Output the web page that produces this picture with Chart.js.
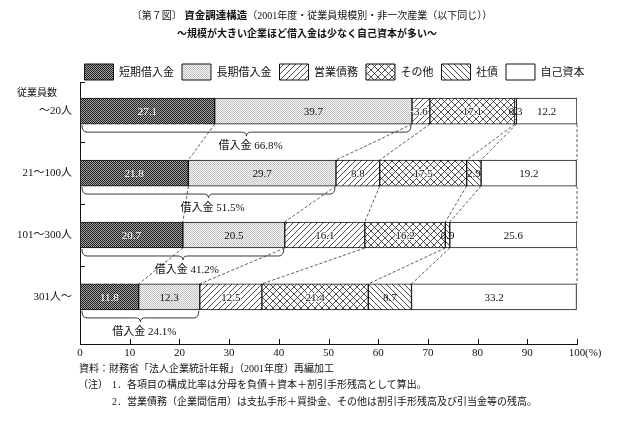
<!DOCTYPE html>
<html><head><meta charset="utf-8">
<script src="https://cdn.jsdelivr.net/npm/chart.js@4/dist/chart.umd.min.js"></script>
<style>
body{margin:0;background:#fff;}
#wrap{position:relative;width:620px;height:424px;overflow:hidden;font-family:"Liberation Serif","Noto Sans CJK JP",serif;color:#111;}
.t{position:absolute;white-space:nowrap;font-size:10px;line-height:12px;}
canvas{position:absolute;left:0;top:0;}
</style></head><body>
<div id="wrap">
<canvas id="c" width="620" height="424"></canvas>
<div class="t" style="left:0;width:624px;text-align:center;top:10px">〔第７図〕 <b style="font-size:10.5px">資金調達構造</b>（2001年度・従業員規模別・非一次産業（以下同じ））</div>
<div class="t" style="left:0;width:614px;text-align:center;top:28px;font-weight:bold">～規模が大きい企業ほど借入金は少なく自己資本が多い～</div>
<div class="t" style="left:17px;top:87px">従業員数</div>
<div class="t" style="left:79px;top:363px">資料：財務省「法人企業統計年報」（2001年度）再編加工</div>
<div class="t" style="left:78px;top:379px">（注）</div>
<div class="t" style="left:112px;top:379px">1．各項目の構成比率は分母を負債＋資本＋割引手形残高として算出。</div>
<div class="t" style="left:112px;top:396px">2．営業債務（企業間信用）は支払手形＋買掛金、その他は割引手形残高及び引当金等の残高。</div>
</div>
<script>
const categories = ['～20人', '21～100人', '101～300人', '301人～'];
const seriesNames = ['短期借入金', '長期借入金', '営業債務', 'その他', '社債', '自己資本'];
const shortTermLoans = [27.1, 21.8, 20.7, 11.8];
const longTermLoans  = [39.7, 29.7, 20.5, 12.3];
const tradePayables  = [3.6, 8.8, 16.1, 12.5];
const others         = [17.1, 17.5, 16.2, 21.4];
const bonds          = [0.3, 2.9, 0.9, 8.7];
const equity         = [12.2, 19.2, 25.6, 33.2];
const borrowingLabel = '借入金';
const seriesValues = [shortTermLoans, longTermLoans, tradePayables, others, bonds, equity];

function makePattern(kind){
  const c = document.createElement('canvas');
  const g = c.getContext('2d');
  if (kind === 'dark' || kind === 'light') {
    c.width = c.height = 2;
    g.fillStyle = kind === 'dark' ? '#a0a0a0' : '#f6f6f6';
    g.fillRect(0,0,2,2);
    g.fillStyle = kind === 'dark' ? '#222' : '#c2c2c2';
    g.fillRect(0,0,1,1); g.fillRect(1,1,1,1);
  } else if (kind === 'white') {
    c.width = c.height = 2; g.fillStyle = '#fff'; g.fillRect(0,0,2,2);
  } else {
    const s = kind === 'cross' ? 7 : 6;
    c.width = c.height = s;
    g.fillStyle = '#fff'; g.fillRect(0,0,s,s);
    g.strokeStyle = '#222'; g.lineWidth = 0.8;
    const fwd = () => { g.beginPath(); g.moveTo(-1,s+1); g.lineTo(s+1,-1); g.moveTo(-1,1); g.lineTo(1,-1); g.moveTo(s-1,s+1); g.lineTo(s+1,s-1); g.stroke(); };
    const bwd = () => { g.beginPath(); g.moveTo(-1,-1); g.lineTo(s+1,s+1); g.moveTo(s-1,-1); g.lineTo(s+1,1); g.moveTo(-1,s-1); g.lineTo(1,s+1); g.stroke(); };
    if (kind === 'fwd' || kind === 'cross') fwd();
    if (kind === 'bwd' || kind === 'cross') bwd();
  }
  return g.createPattern(c, 'repeat');
}
const patterns = ['dark','light','fwd','cross','bwd','white'].map(makePattern);

const datasets = seriesNames.map((name, i) => ({
  label: name,
  data: seriesValues[i].map((v, j) => ({x: v, y: j})),
  backgroundColor: patterns[i],
  borderColor: '#111',
  borderWidth: 1,
  borderSkipped: false,
  barThickness: 26,
  stack: 's'
}));

const annot = {
  id: 'annot',
  afterInit(chart){
    const lg = chart.legend;
    if (lg) { const f = lg.fit; lg.fit = function(){ f.call(this); this.height -= 8; }; }
  },
  afterLayout(chart){
    const lg = chart.legend;
    if (lg) { lg.left += 46; lg.right += 46; }
  },
  afterDatasetsDraw(chart){
    const ctx = chart.ctx, xs = chart.scales.x, ys = chart.scales.y, ca = chart.chartArea;
    const metas = seriesNames.map((_, i) => chart.getDatasetMeta(i));
    ctx.save();
    // dashed connectors between rows
    ctx.setLineDash([3,2]); ctx.lineWidth = 0.8; ctx.strokeStyle = '#333';
    ctx.beginPath();
    for (let j = 0; j < categories.length - 1; j++) {
      for (let k = 1; k < seriesNames.length; k++) {
        const a = metas[k].data[j], b = metas[k].data[j+1];
        ctx.moveTo(metas[k-1].data[j].x, a.y + a.height/2);
        ctx.lineTo(metas[k-1].data[j+1].x, b.y - b.height/2);
      }
      const a = metas[5].data[j], b = metas[5].data[j+1];
      ctx.moveTo(xs.getPixelForValue(100), a.y + a.height/2);
      ctx.lineTo(xs.getPixelForValue(100), b.y - b.height/2);
    }
    ctx.stroke();
    ctx.setLineDash([]);
    // braces + borrowing labels
    ctx.lineWidth = 0.9; ctx.strokeStyle = '#222';
    ctx.font = '11px "Liberation Serif","Noto Sans CJK JP"';
    ctx.textAlign = 'center'; ctx.textBaseline = 'middle';
    for (let j = 0; j < categories.length; j++) {
      const e0 = metas[0].data[j], e1 = metas[1].data[j];
      const x0 = e0.base + 2, x1 = e1.x - 1, yb = e0.y + e0.height/2 + 1;
      const h = 7, r = 5, tip = 4, mid = (x0 + x1)/2;
      ctx.beginPath();
      ctx.moveTo(x0, yb);
      ctx.quadraticCurveTo(x0, yb+h, x0+r, yb+h);
      ctx.lineTo(mid-r, yb+h);
      ctx.quadraticCurveTo(mid, yb+h, mid, yb+h+tip);
      ctx.quadraticCurveTo(mid, yb+h, mid+r, yb+h);
      ctx.lineTo(x1-r, yb+h);
      ctx.quadraticCurveTo(x1, yb+h, x1, yb);
      ctx.stroke();
      const tot = (shortTermLoans[j] + longTermLoans[j]).toFixed(1);
      ctx.fillStyle = '#111';
      ctx.fillText(borrowingLabel + ' ' + tot + '%', mid + 4, yb + 21);
    }
    // data labels
    ctx.font = '11px "Liberation Serif"';
    metas.forEach((m, i) => m.data.forEach((el, j) => {
      const cx = (el.x + el.base)/2, cy = el.y + 1;
      const txt = seriesValues[i][j].toFixed(1);
      if (i === 2 || i === 3) {
        ctx.lineWidth = 2; ctx.strokeStyle = 'rgba(255,255,255,0.85)';
        ctx.strokeText(txt, cx, cy);
      }
      ctx.fillStyle = i === 0 ? '#fff' : '#111';
      ctx.fillText(txt, cx, cy);
    }));
    // axis ticks
    ctx.lineWidth = 1; ctx.strokeStyle = '#111';
    ctx.beginPath();
    xs.ticks.forEach(t => { if (t.value > 0) { const px = Math.round(xs.getPixelForValue(t.value)) + 0.5; ctx.moveTo(px, ca.bottom); ctx.lineTo(px, ca.bottom - 5); } });
    [0.5, 1.5, 2.5].forEach(v => { const py = Math.round(ys.getPixelForValue(v)) + 0.5; ctx.moveTo(ca.left, py); ctx.lineTo(ca.left + 5, py); });
    ctx.moveTo(ca.left, ca.top + 0.5); ctx.lineTo(ca.left + 5, ca.top + 0.5);
    ctx.stroke();
    ctx.textAlign = 'left'; ctx.fillStyle = '#111';
    ctx.fillText('(%)', xs.getPixelForValue(100) + 8, ca.bottom + 9);
    ctx.restore();
  }
};

Chart.defaults.font.family = '"Liberation Serif","Noto Sans CJK JP"';
Chart.defaults.color = '#111';
new Chart(document.getElementById('c'), {
  type: 'bar',
  data: { datasets },
  plugins: [annot],
  options: {
    responsive: false, animation: false, events: [],
    indexAxis: 'y',
    layout: { padding: { top: 56, left: 0, right: 43, bottom: 0 } },
    plugins: {
      legend: { display: true, position: 'top',
        labels: { boxWidth: 29, boxHeight: 16, padding: 8, color: '#111', font: { family: '"Noto Sans CJK JP"', size: 11 } } },
      tooltip: { enabled: false },
      title: { display: false }
    },
    scales: {
      x: { type: 'linear', min: 0, max: 100, stacked: true,
        grid: { display: false, drawTicks: false },
        border: { display: true, color: '#111', width: 1 },
        ticks: { stepSize: 10, padding: 3, autoSkip: false, maxRotation: 0, color: '#111', font: { size: 11 } },
        afterFit(s){ s.height = 80; } },
      y: { type: 'linear', reverse: true, min: -0.47, max: 3.76, offset: false,
        grid: { display: false, drawTicks: false, offset: false },
        border: { display: true, color: '#111', width: 1 },
        ticks: { padding: 8, color: '#111', font: { size: 11 }, callback: v => categories[v] },
        afterBuildTicks(s){ s.ticks = categories.map((_, i) => ({ value: i })); },
        afterFit(s){ s.width = 80; } }
    }
  }
});
</script>
</body></html>
